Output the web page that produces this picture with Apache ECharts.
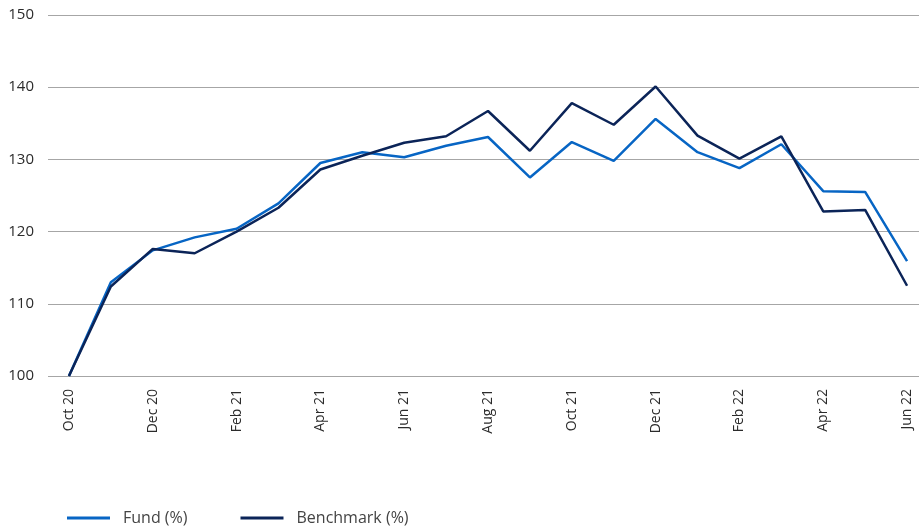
<!DOCTYPE html>
<html>
<head>
<meta charset="utf-8">
<script src="https://cdn.jsdelivr.net/npm/echarts@6/dist/echarts.min.js"></script>
<style>
  html, body { margin: 0; padding: 0; background: #fff; }
  #chart { width: 919px; height: 526px; }
</style>
</head>
<body>
<div id="chart"></div>
<script>
const months = ['Oct 20', 'Nov 20', 'Dec 20', 'Jan 21', 'Feb 21', 'Mar 21', 'Apr 21', 'May 21', 'Jun 21', 'Jul 21', 'Aug 21',
    'Sep 21', 'Oct 21', 'Nov 21', 'Dec 21', 'Jan 22', 'Feb 22', 'Mar 22', 'Apr 22', 'May 22', 'Jun 22'];
const fund = [100, 113.0, 117.4, 119.2, 120.4, 123.9, 129.5, 131.0, 130.3, 131.9, 133.1,
    127.5, 132.4, 129.8, 135.6, 131.0, 128.8, 132.1, 125.6, 125.5, 115.9];
const benchmark = [100, 112.4, 117.6, 117.0, 120.0, 123.3, 128.6, 130.5, 132.3, 133.2, 136.7,
    131.2, 137.8, 134.8, 140.1, 133.3, 130.1, 133.2, 122.8, 123.0, 112.5];

const font = '"Open Sans", "Noto Sans", sans-serif';

let myChart = echarts.init(document.getElementById('chart'));
myChart.setOption({
    animation: false,
    textStyle: { fontFamily: font },
    // plot runs a little past the right edge so Jun 22 lands at ~907px
    grid: { left: 48, width: 880, top: 15, bottom: 150, outerBoundsMode: 'none', containLabel: false },
    legend: {
        left: 62,
        top: 505,
        itemWidth: 43,
        itemHeight: 3,
        itemGap: 53,
        icon: 'rect',
        textStyle: { fontSize: 16, color: '#444', fontFamily: font, padding: [0, 0, 0, 8] },
        data: ['Fund (%)', 'Benchmark (%)']
    },
    xAxis: {
        type: 'category',
        data: months,
        boundaryGap: true,
        axisLine: { show: false },
        axisTick: { show: false },
        axisLabel: { rotate: 90, interval: 1, fontSize: 14, color: '#2b2b2b', margin: 13 }
    },
    yAxis: {
        type: 'value',
        min: 100,
        max: 150,
        interval: 10,
        axisLine: { show: false },
        axisTick: { show: false },
        axisLabel: { fontSize: 15, color: '#2b2b2b', margin: 14 },
        splitLine: { lineStyle: { color: '#a6a6a6', width: 1 } }
    },
    series: [
        {
            name: 'Fund (%)',
            type: 'line',
            data: fund,
            symbol: 'none',
            lineStyle: { width: 2.5, color: '#0765c4' },
            itemStyle: { color: '#0765c4' }
        },
        {
            name: 'Benchmark (%)',
            type: 'line',
            data: benchmark,
            symbol: 'none',
            lineStyle: { width: 2.5, color: '#0b2458' },
            itemStyle: { color: '#0b2458' }
        }
    ]
});
</script>
</body>
</html>
